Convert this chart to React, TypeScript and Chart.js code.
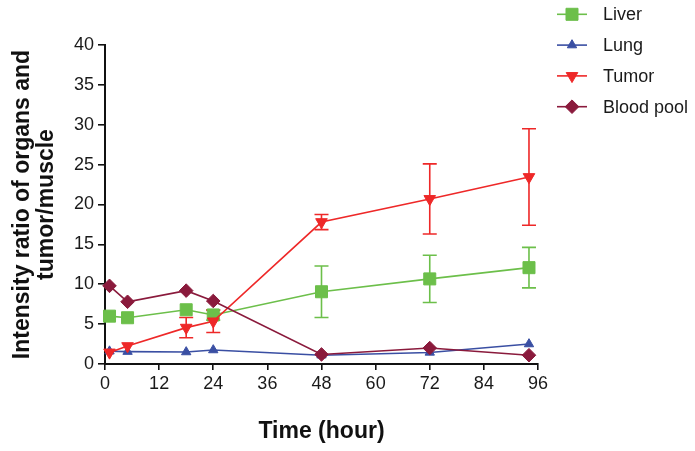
import React, { useEffect, useRef } from "react";
import { Chart, registerables } from "chart.js";
import { drawPoint } from "chart.js/helpers";

Chart.register(...registerables);

const hours = [1, 5, 18, 24, 48, 72, 94];
const liver = [6.0, 5.8, 6.8, 6.15, 9.06, 10.67, 12.08];
const liverErr = [0, 0, 0, 0.65, 3.22, 2.96, 2.54];
const lung = [1.6, 1.55, 1.5, 1.75, 1.1, 1.45, 2.5];
const tumor = [1.45, 2.25, 4.56, 5.35, 17.8, 20.7, 23.45];
const tumorErr = [0, 0, 1.27, 1.4, 0.95, 4.4, 6.05];
const blood = [9.8, 7.8, 9.2, 7.9, 1.2, 2.0, 1.1];
const seriesNames = ["Liver", "Lung", "Tumor", "Blood pool"];
const xTicks = [0, 12, 24, 36, 48, 60, 72, 84, 96];
const yTicks = [0, 5, 10, 15, 20, 25, 30, 35, 40];

const FONT = "'Liberation Sans', Arial, sans-serif";
const COLORS = ["#6cbf4a", "#3a4fa3", "#ee2828", "#8a1a3c"];
const STYLES: any[] = [
  { pointStyle: "rect", radius: 8.5, rotation: 0 },
  { pointStyle: "triangle", radius: 5.4, rotation: 0 },
  { pointStyle: "triangle", radius: 6.7, rotation: 180 },
  { pointStyle: "rectRot", radius: 6.8, rotation: 0 },
];

const errorBars = {
  id: "errorBars",
  beforeDatasetsDraw(chart: any) {
    const ctx = chart.ctx;
    const xs = chart.scales.x;
    const ys = chart.scales.y;
    chart.data.datasets.forEach((ds: any) => {
      if (!ds.errors) return;
      ctx.save();
      ctx.strokeStyle = ds.borderColor;
      ctx.lineWidth = 1.6;
      ds.data.forEach((p: any, i: number) => {
        const e = ds.errors[i];
        if (!e) return;
        const x = xs.getPixelForValue(p.x);
        const yt = ys.getPixelForValue(p.y + e);
        const yb = ys.getPixelForValue(p.y - e);
        const w = 7;
        ctx.beginPath();
        ctx.moveTo(x, yt);
        ctx.lineTo(x, yb);
        ctx.moveTo(x - w, yt);
        ctx.lineTo(x + w, yt);
        ctx.moveTo(x - w, yb);
        ctx.lineTo(x + w, yb);
        ctx.stroke();
      });
      ctx.restore();
    });
  },
};

const customLegend = {
  id: "customLegend",
  afterDraw(chart: any) {
    const ctx = chart.ctx;
    ctx.save();
    seriesNames.forEach((name, i) => {
      const y = 14.3 + i * 30.8;
      ctx.strokeStyle = COLORS[i];
      ctx.lineWidth = 1.6;
      ctx.beginPath();
      ctx.moveTo(557, y);
      ctx.lineTo(587, y);
      ctx.stroke();
      ctx.fillStyle = COLORS[i];
      ctx.strokeStyle = COLORS[i];
      ctx.lineWidth = 1;
      drawPoint(ctx, { pointStyle: STYLES[i].pointStyle, radius: STYLES[i].radius, rotation: STYLES[i].rotation, borderWidth: 1 }, 572, y);
      ctx.fillStyle = "#1a1a1a";
      ctx.font = `18px ${FONT}`;
      ctx.textBaseline = "middle";
      ctx.textAlign = "left";
      ctx.fillText(name, 603, y + 1);
    });
    ctx.restore();
  },
};

export default function App() {
  const ref = useRef<HTMLCanvasElement | null>(null);
  useEffect(() => {
    if (!ref.current) return;
    const values = [liver, lung, tumor, blood];
    const errs = [liverErr, null, tumorErr, null];
    const chart = new Chart(ref.current, {
      type: "scatter",
      data: {
        datasets: values.map((vals, i) => ({
          label: seriesNames[i],
          data: hours.map((h, j) => ({ x: h, y: vals[j] })),
          errors: errs[i],
          showLine: true,
          borderColor: COLORS[i],
          backgroundColor: COLORS[i],
          borderWidth: 1.6,
          pointStyle: STYLES[i].pointStyle,
          pointRadius: STYLES[i].radius,
          pointRotation: STYLES[i].rotation,
          pointBorderWidth: 1,
          pointBorderColor: COLORS[i],
          pointBackgroundColor: COLORS[i],
          order: 4 - i,
          clip: false,
        })) as any,
      },
      options: {
        animation: false,
        responsive: true,
        maintainAspectRatio: false,
        events: [],
        layout: { padding: { left: 0, top: 45, right: 157, bottom: 0 } },
        plugins: { legend: { display: false }, tooltip: { enabled: false } },
        scales: {
          x: {
            type: "linear",
            min: 0,
            max: 96,
            afterFit: (s: any) => { s.height = 87; },
            afterBuildTicks: (s: any) => { s.ticks = xTicks.map((v) => ({ value: v })); },
            ticks: { color: "#1a1a1a", font: { family: FONT, size: 18 }, padding: 3 },
            grid: { display: true, drawOnChartArea: false, drawTicks: true, tickLength: 6, color: "#111", lineWidth: 1.6 },
            border: { display: true, color: "#111", width: 2 },
            title: { display: true, text: "Time (hour)", color: "#111", font: { family: FONT, size: 23, weight: "bold", lineHeight: 1.05 }, padding: { top: 0, bottom: 7 } },
          },
          y: {
            type: "linear",
            min: 0,
            max: 40,
            afterFit: (s: any) => { s.width = 105; },
            afterBuildTicks: (s: any) => { s.ticks = yTicks.map((v) => ({ value: v })); },
            ticks: { color: "#1a1a1a", font: { family: FONT, size: 18 }, padding: 4 },
            grid: { display: true, drawOnChartArea: false, drawTicks: true, tickLength: 7, color: "#111", lineWidth: 1.6 },
            border: { display: true, color: "#111", width: 2 },
            title: { display: true, text: ["Intensity ratio of organs and", "tumor/muscle"], color: "#111", font: { family: FONT, size: 23, weight: "bold", lineHeight: 1.02 }, padding: { top: 11, bottom: 0 } },
          },
        },
      } as any,
      plugins: [errorBars, customLegend],
    });
    return () => chart.destroy();
  }, []);
  return (
    <div style={{ position: "absolute", left: 0, top: 0, width: 695, height: 451, background: "#fff" }}>
      <canvas ref={ref} />
    </div>
  );
}
